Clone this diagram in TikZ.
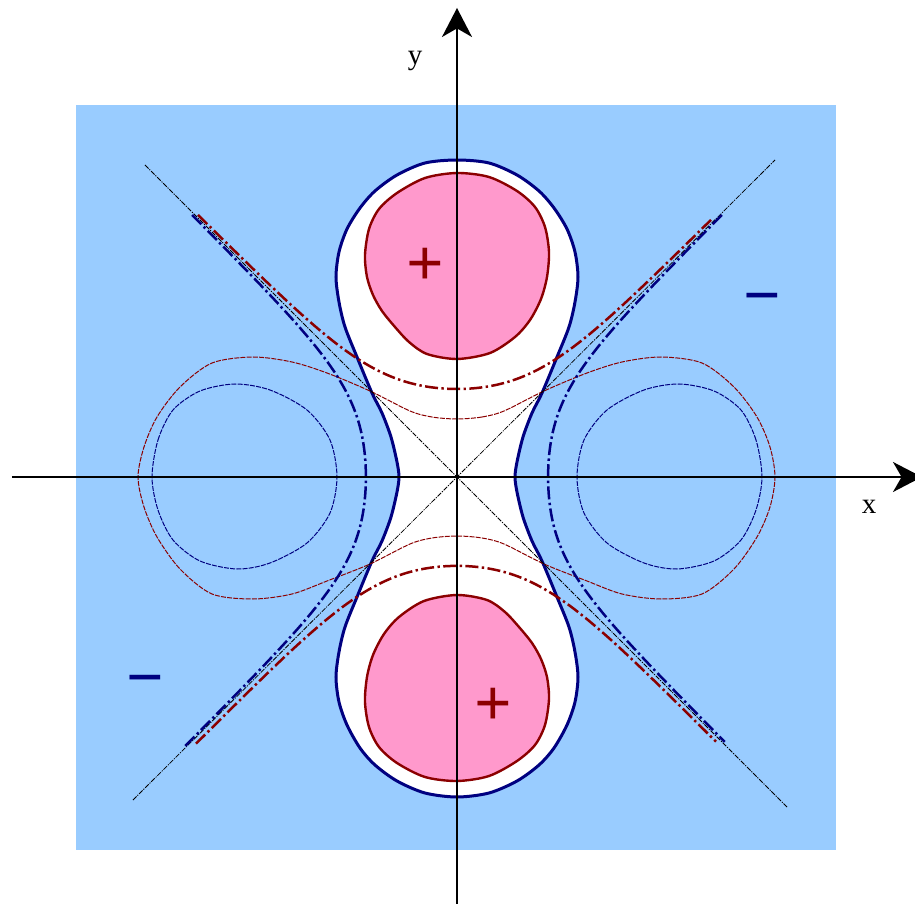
\documentclass[tikz,border=0pt]{standalone}
\usepackage{fontspec}
\setmainfont{Liberation Serif}
\usetikzlibrary{arrows.meta}
\definecolor{bgblue}{HTML}{99CCFF}
\definecolor{pinkfill}{HTML}{FF99CC}
\definecolor{navyline}{HTML}{000080}
\definecolor{redline}{HTML}{8B0000}
\begin{document}
\begin{tikzpicture}[x=0.5pt,y=0.5pt,
  nodal/.style={draw=navyline,line width=1.5pt,fill=white},
  lobe/.style={draw=redline,line width=1.2pt,fill=pinkfill},
  thinred/.style={draw=redline,line width=0.5pt,dash pattern=on 2.5pt off 0.6pt},
  thinblue/.style={draw=navyline,line width=0.5pt,dash pattern=on 2.5pt off 0.6pt},
  asym/.style={draw=black,line width=0.4pt,dash pattern=on 2.5pt off 0.6pt on 0.6pt off 0.6pt},
  hypred/.style={draw=redline,line width=1.25pt,dash pattern=on 6.5pt off 1.7pt on 1.2pt off 1.7pt},
  hypblue/.style={draw=navyline,line width=1.25pt,dash pattern=on 6.5pt off 1.7pt on 1.2pt off 1.7pt},
  axisline/.style={draw=black,line width=1pt,-{Stealth[length=14.5pt,width=15pt,inset=4.3pt]}},
  signlabel/.style={inner sep=0pt,font=\fontsize{33}{33}\selectfont\bfseries},
  axislabel/.style={inner sep=0pt,font=\fontsize{14.5}{17}\selectfont}]
\clip (-457,-427) rectangle (458,477);
\fill[bgblue] (-381,-373) rectangle (379,372);
% nodal (zero) contour
\path[nodal] plot[smooth cycle] coordinates {
 (0,317) (32,314) (60,302) (82,286) (97,269) (110,248) (118,225) (121,200) (118,175) (112,150) (100,120) (85,84) (75,64) (66,40) (60,15) (58,0)
 (60,-15) (66,-40) (75,-64) (85,-84) (100,-120) (112,-150) (118,-175) (121,-200) (118,-225) (110,-248) (97,-271) (82,-288) (60,-304) (32,-316) (0,-320)
 (-32,-316) (-60,-304) (-82,-288) (-97,-271) (-110,-248) (-118,-225) (-121,-200) (-118,-175) (-112,-150) (-100,-120) (-85,-84) (-75,-64) (-66,-40) (-60,-15) (-58,0)
 (-60,15) (-66,40) (-75,64) (-85,84) (-100,120) (-112,150) (-118,175) (-121,200) (-118,225) (-110,248) (-97,269) (-82,286) (-60,302) (-32,314)};
% positive lobes
\path[lobe] plot[smooth cycle] coordinates {
 (0,304) (32,300) (60,286) (78,270) (88,250) (92,225) (90,200) (84,178) (73,157) (58,140) (33,124) (0,118) (-30,123) (-48,135) (-62,150) (-75,166) (-84,182) (-90,200) (-92,222) (-88,248) (-78,268) (-60,284) (-32,299)};
\begin{scope}[rotate=180]
\path[lobe] plot[smooth cycle] coordinates {
 (0,304) (32,300) (60,286) (78,270) (88,250) (92,225) (90,200) (84,178) (73,157) (58,140) (33,124) (0,118) (-30,123) (-48,135) (-62,150) (-75,166) (-84,182) (-90,200) (-92,222) (-88,248) (-78,268) (-60,284) (-32,299)};
\end{scope}
% thin dashed contours
\path[thinred] plot[smooth cycle] coordinates {
 (0,58) (25,60) (47,66) (87,86) (130,104) (165,115) (204,120) (245,114) (277,90) (300,60) (313,30) (318,0) (313,-30) (300,-60) (277,-92) (245,-117) (204,-122) (165,-117) (130,-104) (87,-87) (47,-67) (25,-61) (0,-59) (-25,-61) (-47,-67) (-87,-87) (-130,-104) (-165,-117) (-204,-122) (-245,-117) (-277,-92) (-300,-60) (-313,-30) (-319,0) (-313,30) (-300,60) (-277,90) (-245,114) (-204,120) (-165,115) (-130,104) (-87,86) (-47,66) (-25,60)};
\path[thinblue] plot[smooth cycle] coordinates {
 (-305,0) (-299,37) (-284,67) (-257,86) (-222,93) (-187,87) (-150,67) (-127,37) (-120,0) (-127,-36) (-150,-66) (-187,-86) (-220,-92) (-257,-84) (-284,-63) (-299,-33)};
\begin{scope}[xscale=-1]
\path[thinblue] plot[smooth cycle] coordinates {
 (-305,0) (-299,37) (-284,67) (-257,86) (-222,93) (-187,87) (-150,67) (-127,37) (-120,0) (-127,-36) (-150,-66) (-187,-86) (-220,-92) (-257,-84) (-284,-63) (-299,-33)};
\end{scope}
% asymptotes
\coordinate (d1a) at (-312,312); \coordinate (d1b) at (330,-330);
\coordinate (d2a) at (-324,-323); \coordinate (d2b) at (318,317);
\draw[asym] (d1a) -- (d1b);
\draw[asym] (d2a) -- (d2b);
% hyperbola-like curves
\path[hypred] plot[domain=-2.59:2.54,samples=90,smooth] ({100*\x},{100*sqrt(\x*\x+0.16+0.6144*exp(-\x*\x/1.1))});
\path[hypred] plot[domain=-2.61:2.59,samples=90,smooth] ({100*\x},{-101*sqrt(\x*\x+0.16+0.6144*exp(-\x*\x/1.1))});
\path[hypblue] plot[domain=2.62:-2.71,samples=90,smooth] ({-100*sqrt(\x*\x+0.15+0.68*exp(-\x*\x/1.1))},{100*\x});
\path[hypblue] plot[domain=2.62:-2.65,samples=90,smooth] ({100*sqrt(\x*\x+0.15+0.68*exp(-\x*\x/1.1))},{100*\x});
% axes
\coordinate (xs) at (-445,0); \coordinate (xe) at (465,0);
\coordinate (ys) at (0,-427); \coordinate (ye) at (0,469);
\draw[axisline] (xs) -- (xe);
\draw[axisline] (ys) -- (ye);
\node[axislabel] (ylab) at (-42,416) {y};
\node[axislabel] (xlab) at (412,-30) {x};
% signs
\node[signlabel,text=redline] (plustop) at (-32,210) {+};
\node[signlabel,text=redline] (plusbot) at (36,-230) {+};
\node[signlabel,text=navyline] (minusright) at (305,172) {−};
\node[signlabel,text=navyline] (minusleft) at (-312,-210) {−};
\end{tikzpicture}
\end{document}
